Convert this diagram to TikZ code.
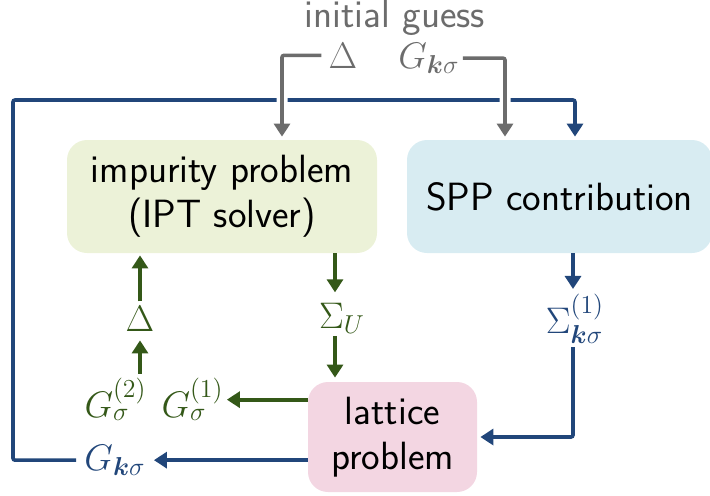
\RequirePackage{fix-cm}
\documentclass[tikz,border=0pt]{standalone}
\usepackage{amsmath,bm}
\usepackage{fontspec}
\setsansfont{Latin Modern Sans}[Scale=1.065]
\usetikzlibrary{arrows.meta}

\definecolor{guessgray}{RGB}{108,108,108}
\definecolor{loopblue}{RGB}{33,70,122}
\definecolor{solvgreen}{RGB}{52,88,24}
\definecolor{impfill}{RGB}{236,242,216}
\definecolor{sppfill}{RGB}{216,236,242}
\definecolor{latfill}{RGB}{243,214,226}

\newcommand{\figfont}{\fontsize{18.5pt}{22.5pt}\selectfont\sffamily}

\tikzset{
  box/.style={rounded corners=10pt, inner sep=0pt, align=center, font=\figfont},
  lab/.style={inner sep=0pt, font=\figfont},
  tip/.style={-{Triangle[length=6.5pt,width=8pt]}},
  gline/.style={draw=guessgray, line width=1.8pt, tip, rounded corners=1pt,
                preaction={draw=white, line width=5.5pt, -}},
  bline/.style={draw=loopblue, line width=1.8pt, tip, rounded corners=1pt},
  grline/.style={draw=solvgreen, line width=1.9pt, tip},
}

\begin{document}
\begin{tikzpicture}[x=0.5pt, y=-0.5pt]
  \useasboundingbox (0,0) rectangle (710,495);

  % boxes
  \node[box, fill=impfill, minimum width=155pt, minimum height=56.5pt] (imp) at (222,196.5)
    {impurity problem\\(IPT solver)};
  \node[box, fill=sppfill, minimum width=152.5pt, minimum height=56.5pt] (spp) at (559.5,196.5)
    {SPP contribution};
  \node[box, fill=latfill, minimum width=84.5pt, minimum height=55pt] (lat) at (392.5,437)
    {lattice\\problem};

  % initial guess
  \node[lab, text=guessgray, anchor=base] (init) at (395,27) {initial guess};
  \node[lab, text=guessgray, anchor=base] (gD) at (343,68) {$\Delta$};
  \node[lab, text=guessgray, anchor=base west] (gG) at (398,68) {$G_{\bm{k}\sigma}$};

  % loop labels
  \node[lab, text=loopblue, anchor=base] (lG) at (115,470) {$G_{\bm{k}\sigma}$};
  \node[lab, text=loopblue, anchor=base] (sK) at (575,333) {$\Sigma^{(1)}_{\bm{k}\sigma}$};

  % solver labels
  \node[lab, text=solvgreen, anchor=base] (sU) at (342,328) {$\Sigma_U$};
  \node[lab, text=solvgreen, anchor=base] (gD2) at (140,331) {$\Delta$};
  \node[lab, text=solvgreen, anchor=base] (G2) at (115.5,417) {$G^{(2)}_\sigma$};
  \node[lab, text=solvgreen, anchor=base] (G1) at (192.5,417) {$G^{(1)}_\sigma$};

  % columns of the vertical connectors
  \coordinate (xa) at (282,0);
  \coordinate (xb) at (505,0);
  \coordinate (xr) at (575,0);
  \coordinate (xk) at (573,0);
  \coordinate (xs) at (335,0);
  \coordinate (cl) at (13,100);

  % outer self-consistency loop
  \draw[bline, shorten <=4pt] (lG.west) -| (cl) -| ([yshift=1.5pt]spp.north -| xr);
  \draw[bline, shorten >=4pt] (lat.west |- lG) -- (lG.east);
  \draw[bline] (spp.south -| xk) -- ([yshift=2.5pt]sK.north -| xk);
  \draw[bline, shorten >=1.5pt] ([yshift=-1.5pt]sK.south -| xk) |- (lat.east);

  % initial guess inputs
  \draw[gline] ([xshift=-3.5pt]gD.west) -| ([yshift=1.5pt]imp.north -| xa);
  \draw[gline] ([xshift=1.5pt]gG.east) -| ([yshift=1.5pt]spp.north -| xb);

  % impurity solver cycle
  \draw[grline] (imp.south -| xs) -- ([yshift=5pt]sU.north -| xs);
  \draw[grline] ([yshift=-1pt]sU.south -| xs) -- ([yshift=2pt]lat.north -| xs);
  \draw[grline, shorten >=1.5pt] (lat.west |- G1) -- (G1.east);
  \draw[grline, shorten >=4.5pt] ([yshift=2pt]G2.north -| gD2) -- (gD2.south);
  \draw[grline] ([yshift=2pt]gD2.north) -- ([yshift=-1pt]imp.south -| gD2);
\end{tikzpicture}
\end{document}
